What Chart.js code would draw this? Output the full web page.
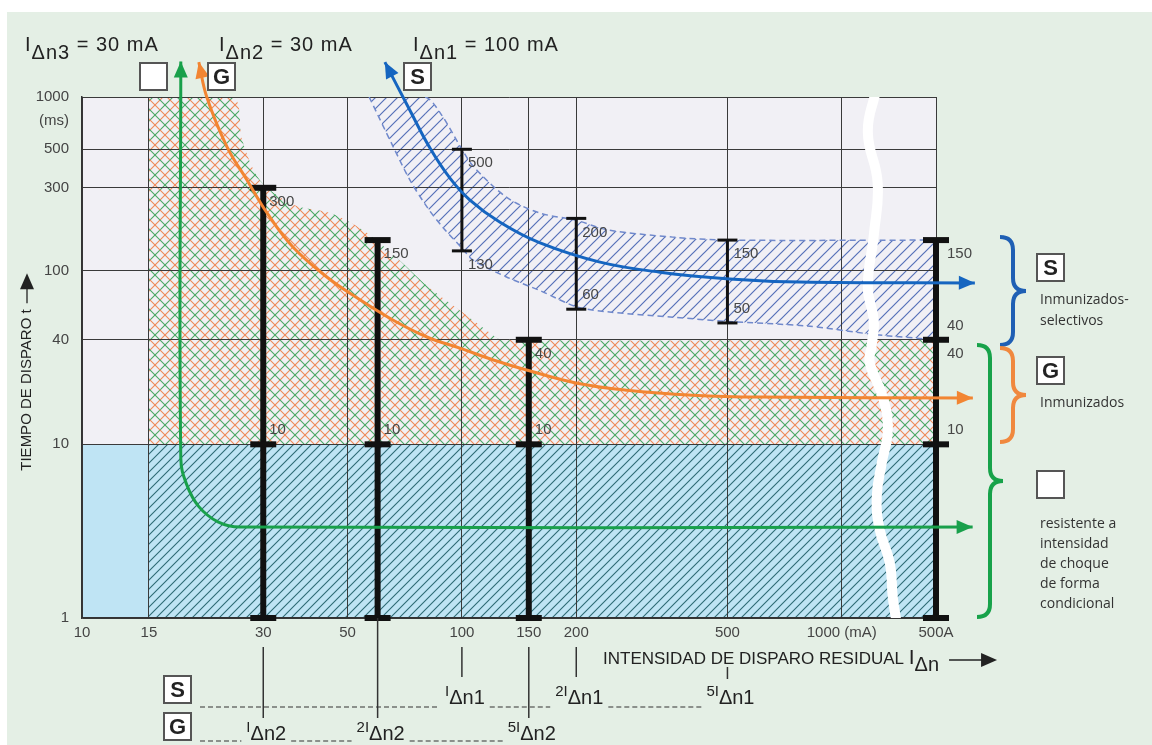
<!DOCTYPE html>
<html>
<head>
<meta charset="utf-8">
<script src="https://cdn.jsdelivr.net/npm/chart.js@4.4.0/dist/chart.umd.min.js"></script>
<style>
  html, body { margin: 0; padding: 0; background: #fff; }
  #wrap { position: relative; width: 1152px; height: 745px; background: #fff; overflow: hidden; }
  #panel { position: absolute; left: 7px; top: 12px; right: 0; bottom: 0; background: #e4efe5; }
  #myChart { position: absolute; left: 0; top: 0; }
</style>
</head>
<body>
<div id="wrap"><div id="panel"></div><canvas id="myChart" width="1152" height="745"></canvas></div>
<script>
const FONT = '"Liberation Sans", Arial, sans-serif';

// axes
const xTickValues = [10, 15, 30, 50, 100, 150, 200, 500, 1000, 1770];
const xTickLabels = ['10', '15', '30', '50', '100', '150', '200', '500', '1000 (mA)', '500A'];
const yTickValues = [1, 10, 40, 100, 300, 500, 1000];
const yTickLabels = ['1', '10', '40', '100', '300', '500', '1000'];

// G (IΔn2 = 30 mA): tripping time marks (ms) at 1x, 2x, 5x and 500 A
const gBarX = [30, 60, 150, 1770];
const gBarY = [[1, 10, 300], [1, 10, 150], [1, 10, 40], [1, 10, 40, 150]];
// S (IΔn1 = 100 mA): at 1x, 2x, 5x
const sBarX = [100, 200, 500];
const sBarY = [[130, 500], [60, 200], [50, 150]];

// numbers written next to the caps
const capX = [30, 30, 60, 60, 150, 150, 100, 100, 200, 200, 500, 500, 1770, 1770, 1770, 1770];
const capY = [300, 10, 150, 10, 40, 10, 500, 130, 200, 60, 150, 50, 150, 40, 40, 10];
const capBelow = [true, false, true, false, true, false, true, true, true, false, true, false, true, false, true, false];

// G zone (cross hatch) upper edge, filled down to 10 ms
const gZoneX = [15, 25, 26.4, 29.4, 36, 45, 55, 67, 82, 100, 120, 127, 1770];
const gZoneY = [1000, 1000, 565, 332, 240, 215, 171, 120, 80, 58, 43, 40, 40];

// S band
const sUpperX = [57, 80, 88, 100, 107, 131, 160, 200, 241, 359, 500, 1770];
const sUpperY = [1000, 1000, 800, 500, 400, 265, 215, 195, 172, 156, 150, 150];
const sLowerX = [57, 66, 73, 81, 89, 100, 107, 131, 160, 200, 241, 359, 500, 809, 1208, 1770];
const sLowerY = [1000, 515, 332, 232, 178, 135, 115, 92, 77, 62, 58, 54, 51, 48, 43, 40];

// characteristic arrows
const greenX = [18.2, 18.2, 18.83, 20.3, 22.8, 26.05, 2210];
const greenY = [1600, 8.3, 5.92, 4.38, 3.58, 3.34, 3.34];
const orangeX = [20.3, 21.3, 24.1, 27.2, 30.7, 35.9, 44.1, 53.9, 65.8, 80.9, 98.8, 121, 148, 201, 272, 405, 609, 2213];
const orangeY = [1588, 1000, 515, 332, 215, 137, 92, 68, 52, 41.5, 35.8, 30.6, 26.8, 22.5, 20.5, 19.2, 18.7, 18.5];
const blueX = [62.7, 72.9, 82.4, 93, 105, 126, 160, 231, 332, 507, 774, 2240];
const blueY = [1588, 841, 508, 341, 255, 190, 145, 112, 98, 89.6, 86, 85];

// axis break
const waveX = [1228, 1171, 1243, 1214, 1171, 1214, 1199, 1185, 1282, 1322, 1274, 1236, 1259, 1338, 1362, 1395];
const waveY = [1080, 628, 319, 160, 80.5, 51.3, 37.3, 29.4, 18.7, 12.1, 7.8, 4.97, 3.21, 2.07, 1.32, 0.93];

// bottom rows
const sRowX = [100, 200, 500];
const sRowLabels = [['', 'I', 'Δn1'], ['2', 'I', 'Δn1'], ['5', 'I', 'Δn1']];
const gRowX = [30, 60, 150];
const gRowLabels = [['', 'I', 'Δn2'], ['2', 'I', 'Δn2'], ['5', 'I', 'Δn2']];

const zip = (xs, ys) => xs.map((x, i) => ({ x: x, y: ys[i] }));

const ctx0 = document.getElementById('myChart').getContext('2d');
function makePattern(size, strokes) {
    const c = document.createElement('canvas');
    c.width = c.height = size;
    const g = c.getContext('2d');
    strokes.forEach(s => {
        g.strokeStyle = s.color;
        g.lineWidth = s.width;
        g.beginPath();
        for (let k = -1; k <= 2; k++) {
            const c0 = s.offset + k * size;
            if (s.dir === '/') { g.moveTo(-size, c0 + size); g.lineTo(2 * size, c0 - 2 * size); }
            else { g.moveTo(-size, c0 - size); g.lineTo(2 * size, c0 + 2 * size); }
        }
        g.stroke();
    });
    return ctx0.createPattern(c, 'repeat');
}

const tealHatch = makePattern(9, [{ dir: '/', offset: 0, color: '#2e6b74', width: 1.1 }]);
const crossHatch = makePattern(20, [
    { dir: '/', offset: 0, color: '#ee8a58', width: 1.1 },
    { dir: '/', offset: 10, color: '#4aa865', width: 1.1 },
    { dir: '\\', offset: 0, color: '#4aa865', width: 1.1 },
    { dir: '\\', offset: 10, color: '#ee8a58', width: 1.1 }
]);
const blueHatch = makePattern(11, [{ dir: '/', offset: 0, color: '#5570b8', width: 1.2 }]);

const datasets = [];
datasets.push({ data: zip(greenX, greenY), borderColor: '#19a04b', borderWidth: 3, pointRadius: 0, tension: 0.4, fill: false, clip: false, order: 0 });
datasets.push({ data: zip(orangeX, orangeY), borderColor: '#f28532', borderWidth: 3, pointRadius: 0, tension: 0.4, fill: false, clip: false, order: 0 });
datasets.push({ data: zip(blueX, blueY), borderColor: '#1565c0', borderWidth: 3, pointRadius: 0, tension: 0.4, fill: false, clip: false, order: 0 });
const arrowColors = ['#19a04b', '#f28532', '#1565c0'];

gBarX.forEach((x, i) => {
    datasets.push({ data: gBarY[i].map(y => ({ x: x, y: y })), borderColor: '#111', borderWidth: 6,
        pointStyle: 'line', pointRadius: 13, pointBorderWidth: 6, pointBorderColor: '#111', tension: 0, clip: false, fill: false, order: 1 });
});
sBarX.forEach((x, i) => {
    datasets.push({ data: sBarY[i].map(y => ({ x: x, y: y })), borderColor: '#111', borderWidth: 3,
        pointStyle: 'line', pointRadius: 10, pointBorderWidth: 3, pointBorderColor: '#111', tension: 0, clip: false, fill: false, order: 1 });
});

datasets.push({ data: zip(waveX, waveY), borderColor: '#ffffff', borderWidth: 10, pointRadius: 0, tension: 0.45, fill: false, order: 2 });

datasets.push({ data: zip(sUpperX, sUpperY), borderColor: '#7089cc', borderWidth: 1.5, borderDash: [6, 4], pointRadius: 0, tension: 0.3,
    fill: '+1', backgroundColor: blueHatch, order: 3,
    segment: { borderColor: c => c.p0DataIndex === 0 ? 'rgba(0,0,0,0)' : undefined } });
datasets.push({ data: zip(sLowerX, sLowerY), borderColor: '#7089cc', borderWidth: 1.5, borderDash: [6, 4], pointRadius: 0, tension: 0.3, fill: false, order: 3 });

datasets.push({ data: zip(gZoneX, gZoneY), borderWidth: 0, pointRadius: 0, tension: 0.3, fill: { value: 10 }, backgroundColor: crossHatch, order: 4 });
datasets.push({ data: [{ x: 15, y: 10 }, { x: 1770, y: 10 }], borderWidth: 0, pointRadius: 0, fill: 'start', backgroundColor: tealHatch, order: 5 });
datasets.push({ data: [{ x: 10, y: 10 }, { x: 1770, y: 10 }], borderWidth: 0, pointRadius: 0, fill: 'start', backgroundColor: '#bfe4f4', order: 6 });
datasets.push({ data: [{ x: 10, y: 1000 }, { x: 1770, y: 1000 }], borderWidth: 0, pointRadius: 0, fill: 'start', backgroundColor: '#f1f0f5', order: 7 });

function arrowHead(ctx, tip, from, color) {
    const a = Math.atan2(tip.y - from.y, tip.x - from.x);
    const len = 16, half = 7;
    ctx.fillStyle = color;
    ctx.beginPath();
    ctx.moveTo(tip.x, tip.y);
    ctx.lineTo(tip.x - len * Math.cos(a) + half * Math.sin(a), tip.y - len * Math.sin(a) - half * Math.cos(a));
    ctx.lineTo(tip.x - len * Math.cos(a) - half * Math.sin(a), tip.y - len * Math.sin(a) + half * Math.cos(a));
    ctx.closePath();
    ctx.fill();
}

function parts(ctx, list, x, y, measureOnly) {
    // list: [text, dy, size]
    let cx = x;
    list.forEach(p => {
        ctx.font = p[2] + 'px ' + FONT;
        if (!measureOnly) ctx.fillText(p[0], cx, y + p[1]);
        cx += ctx.measureText(p[0]).width;
    });
    return cx - x;
}

function box(ctx, x, y, letter) {
    ctx.fillStyle = '#fff';
    ctx.fillRect(x, y, 27, 27);
    ctx.strokeStyle = '#555';
    ctx.lineWidth = 2;
    ctx.strokeRect(x, y, 27, 27);
    if (letter) {
        ctx.fillStyle = '#222';
        ctx.font = 'bold 22px ' + FONT;
        ctx.textAlign = 'center';
        ctx.textBaseline = 'middle';
        ctx.fillText(letter, x + 13.5, y + 15);
        ctx.textAlign = 'left';
        ctx.textBaseline = 'alphabetic';
    }
}

function brace(ctx, x, y0, y1, w, color) {
    const ym = (y0 + y1) / 2, xm = x + w / 2;
    ctx.strokeStyle = color;
    ctx.lineWidth = 4;
    ctx.beginPath();
    ctx.moveTo(x, y0);
    ctx.quadraticCurveTo(xm, y0, xm, y0 + w / 2);
    ctx.lineTo(xm, ym - w / 2);
    ctx.quadraticCurveTo(xm, ym, x + w, ym);
    ctx.quadraticCurveTo(xm, ym, xm, ym + w / 2);
    ctx.lineTo(xm, y1 - w / 2);
    ctx.quadraticCurveTo(xm, y1, x, y1);
    ctx.stroke();
}

function dashed(ctx, x0, x1, y) {
    if (x1 <= x0) return;
    ctx.save();
    ctx.strokeStyle = '#333';
    ctx.lineWidth = 1.2;
    ctx.setLineDash([5, 3]);
    ctx.beginPath();
    ctx.moveTo(x0, y);
    ctx.lineTo(x1, y);
    ctx.stroke();
    ctx.restore();
}

const annotations = {
    id: 'annotations',
    afterDraw(chart) {
        const ctx = chart.ctx, xs = chart.scales.x, ys = chart.scales.y;
        ctx.save();

        // arrow heads on both ends of the three characteristics
        for (let i = 0; i < 3; i++) {
            const pts = chart.getDatasetMeta(i).data;
            arrowHead(ctx, pts[0], pts[1], arrowColors[i]);
            arrowHead(ctx, pts[pts.length - 1], pts[pts.length - 2], arrowColors[i]);
        }

        // cap numbers
        ctx.font = '15px ' + FONT;
        ctx.fillStyle = '#474747';
        ctx.textAlign = 'left';
        ctx.textBaseline = 'middle';
        capX.forEach((v, i) => {
            const px = xs.getPixelForValue(v) + (v > 1000 ? 11 : 6);
            const py = ys.getPixelForValue(capY[i]) + (capBelow[i] ? 14 : -14);
            ctx.fillText(String(capY[i]), px, py);
        });
        ctx.textAlign = 'right';
        ctx.fillStyle = '#444';
        ctx.font = '15px ' + FONT;
        ctx.fillText('(ms)', 69, 121);

        // top labels
        ctx.textAlign = 'left';
        ctx.textBaseline = 'alphabetic';
        ctx.fillStyle = '#222';
        ctx.save();
        ctx.letterSpacing = '1px';
        [['Δn3', ' = 30 mA', 25], ['Δn2', ' = 30 mA', 219], ['Δn1', ' = 100 mA', 413]].forEach(t => {
            parts(ctx, [['I', 0, 20], [t[0], 8, 20], [t[1], 0, 20]], t[2], 51);
        });
        ctx.restore();
        box(ctx, 140, 63, '');
        box(ctx, 208, 63, 'G');
        box(ctx, 404, 63, 'S');

        // y title
        ctx.save();
        ctx.translate(27, 372);
        ctx.rotate(-Math.PI / 2);
        ctx.font = '15px ' + FONT;
        ctx.fillStyle = '#222';
        ctx.textBaseline = 'middle';
        const yt = 'TIEMPO DE DISPARO t';
        const ytw = ctx.measureText(yt).width;
        const ytot = ytw + 36;
        ctx.fillText(yt, -ytot / 2, 0);
        ctx.strokeStyle = '#222';
        ctx.lineWidth = 1.3;
        ctx.beginPath();
        ctx.moveTo(-ytot / 2 + ytw + 6, 0);
        ctx.lineTo(ytot / 2 - 4, 0);
        ctx.stroke();
        arrowHead(ctx, { x: ytot / 2, y: 0 }, { x: 0, y: 0 }, '#222');
        ctx.restore();

        // x title
        ctx.fillStyle = '#222';
        ctx.textBaseline = 'alphabetic';
        const xw = parts(ctx, [['INTENSIDAD DE DISPARO RESIDUAL ', 0, 17], ['I', 0, 21], ['Δn', 7, 20]], 603, 664);
        ctx.strokeStyle = '#222';
        ctx.lineWidth = 1.5;
        const ax0 = 603 + xw + 10;
        ctx.beginPath();
        ctx.moveTo(ax0, 660);
        ctx.lineTo(ax0 + 44, 660);
        ctx.stroke();
        arrowHead(ctx, { x: ax0 + 48, y: 660 }, { x: ax0, y: 660 }, '#222');

        // drop lines from the axis to the rows
        ctx.strokeStyle = '#333';
        ctx.lineWidth = 1.5;
        [[30, 647, 718], [60, 618, 718], [100, 647, 677], [150, 647, 718], [200, 647, 677], [500, 667, 679]].forEach(d => {
            const px = xs.getPixelForValue(d[0]);
            ctx.beginPath();
            ctx.moveTo(px, d[1]);
            ctx.lineTo(px, d[2]);
            ctx.stroke();
        });

        // S and G rows
        box(ctx, 164, 676, 'S');
        box(ctx, 164, 713, 'G');
        ctx.fillStyle = '#222';
        const row = (xsVals, labels, y, dashY) => {
            let prev = 200;
            xsVals.forEach((v, i) => {
                const lab = labels[i];
                const list = [[lab[0] + lab[1], -8, 15], [lab[2], 0, 20]];
                const w = parts(ctx, list, 0, 0, true);
                const x0 = xs.getPixelForValue(v) - w / 2 + 3;
                dashed(ctx, prev, x0 - 5, dashY);
                ctx.fillStyle = '#222';
                parts(ctx, list, x0, y);
                prev = x0 + w + 5;
            });
        };
        row(sRowX, sRowLabels, 704, 707);
        row(gRowX, gRowLabels, 740, 741);

        // right hand legend
        brace(ctx, 1000, 237, 345, 26, '#1f5fb4');
        brace(ctx, 1000, 348, 442, 26, '#f0883e');
        brace(ctx, 977, 345, 617, 26, '#17a24a');
        box(ctx, 1037, 254, 'S');
        box(ctx, 1037, 357, 'G');
        box(ctx, 1037, 471, '');
        ctx.fillStyle = '#333';
        ctx.font = '14px "Open Sans", ' + FONT;
        ctx.textAlign = 'left';
        ctx.textBaseline = 'middle';
        [['Inmunizados-', 300], ['selectivos', 321], ['Inmunizados', 403],
         ['resistente a', 524], ['intensidad', 544], ['de choque', 564], ['de forma', 584], ['condicional', 604]].forEach(t => {
            ctx.fillText(t[0], 1040, t[1]);
        });

        ctx.restore();
    }
};

new Chart(ctx0, {
    type: 'line',
    data: { datasets: datasets },
    options: {
        responsive: false,
        animation: false,
        devicePixelRatio: 1,
        events: [],
        layout: { padding: { left: 0, top: 97, right: 216, bottom: 0 } },
        plugins: {
            legend: { display: false },
            tooltip: { enabled: false },
            filler: { drawTime: 'beforeDraw' }
        },
        scales: {
            x: {
                type: 'logarithmic',
                min: 10,
                max: 1770,
                afterBuildTicks: s => { s.ticks = xTickValues.map(v => ({ value: v })); },
                afterFit: s => { s.height = 127; },
                ticks: {
                    autoSkip: false, maxRotation: 0, minRotation: 0, padding: 6, color: '#444',
                    font: { family: FONT, size: 15 },
                    callback: (v, i) => xTickLabels[i]
                },
                grid: { color: '#3a3a3a', lineWidth: 1, drawTicks: false },
                border: { color: '#333', width: 1.5 }
            },
            y: {
                type: 'logarithmic',
                min: 1,
                max: 1000,
                afterBuildTicks: s => { s.ticks = yTickValues.map(v => ({ value: v })); },
                afterFit: s => { s.width = 82; },
                ticks: {
                    autoSkip: false, padding: 13, color: '#444',
                    font: { family: FONT, size: 15 },
                    callback: (v, i) => yTickLabels[i]
                },
                grid: { color: '#3a3a3a', lineWidth: 1, drawTicks: false },
                border: { color: '#333', width: 1.5 }
            }
        }
    },
    plugins: [annotations]
});
</script>
</body>
</html>
